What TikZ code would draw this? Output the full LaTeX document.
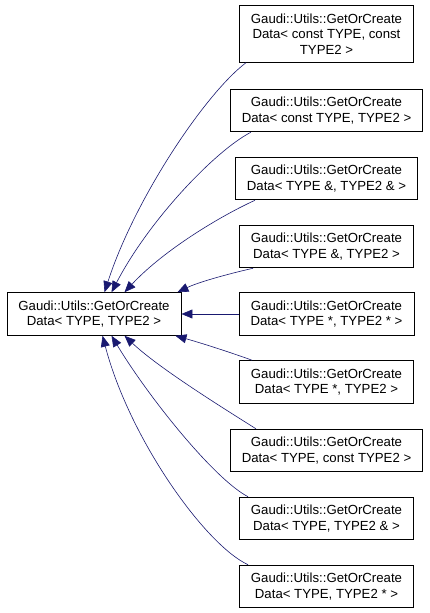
\documentclass[tikz,border=0pt]{standalone}
\usepackage{fontspec}
\setmainfont{Liberation Sans}
\usetikzlibrary{arrows.meta}
\definecolor{edgeblue}{RGB}{25,25,112}

\begin{document}
\begin{tikzpicture}[x=1pt,y=-1pt,
    cls/.style={draw=black,line width=0.8pt,fill=white,align=center,
      inner xsep=11.5pt,inner ysep=8pt,font=\fontsize{13.2}{15.5}\selectfont},
    inh/.style={edgeblue,line width=0.6pt,-{Triangle[length=11pt,width=9pt]}}]
    \useasboundingbox (0,0) rectangle (429,613);

    % base class
    \node[cls] (base) at (94,314) {Gaudi::Utils::GetOrCreate\\Data< TYPE, TYPE2 >};

    % specialisations
    \node[cls] (cc) at (326.5,34)  {Gaudi::Utils::GetOrCreate\\Data< const TYPE, const\\TYPE2 >};
    \node[cls] (ct) at (326.5,110.5) {Gaudi::Utils::GetOrCreate\\Data< const TYPE, TYPE2 >};
    \node[cls] (rr) at (326.5,178.5) {Gaudi::Utils::GetOrCreate\\Data< TYPE \&, TYPE2 \& >};
    \node[cls] (rt) at (326.5,246.5) {Gaudi::Utils::GetOrCreate\\Data< TYPE \&, TYPE2 >};
    \node[cls] (pp) at (326.5,314) {Gaudi::Utils::GetOrCreate\\Data< TYPE *, TYPE2 * >};
    \node[cls] (pt) at (326.5,382) {Gaudi::Utils::GetOrCreate\\Data< TYPE *, TYPE2 >};
    \node[cls] (tc) at (326.5,450.5) {Gaudi::Utils::GetOrCreate\\Data< TYPE, const TYPE2 >};
    \node[cls] (tr) at (326.5,518.5) {Gaudi::Utils::GetOrCreate\\Data< TYPE, TYPE2 \& >};
    \node[cls] (tp) at (326.5,586.5) {Gaudi::Utils::GetOrCreate\\Data< TYPE, TYPE2 * >};

    % inheritance edges
    \draw[inh] ([xshift=7pt]cc.south west) .. controls +(-41,31) and +(30,-93) .. ([xshift=98pt]base.north west);
    \draw[inh] ([xshift=21pt]ct.south west) .. controls +(-35,18) and +(38,-73) .. ([xshift=105pt]base.north west);
    \draw[inh] ([xshift=20pt]rr.south west) .. controls +(-33,15) and +(40,-43) .. ([xshift=118pt]base.north west);
    \draw[inh] ([xshift=14pt]rt.south west) .. controls +(-18,4) and +(23,-11) .. ([xshift=-4pt]base.north east);
    \draw[inh] (pp.west) -- (base.east);
    \draw[inh] ([xshift=13pt]pt.north west) .. controls +(-22,-8) and +(25,7) .. ([xshift=-6pt]base.south east);
    \draw[inh] ([xshift=26pt]tc.north west) .. controls +(-30,-19) and +(35,33) .. ([xshift=118pt]base.south west);
    \draw[inh] ([xshift=9pt]tr.north west) .. controls +(-33,-17) and +(38,63) .. ([xshift=105pt]base.south west);
    \draw[inh] ([xshift=9pt]tp.north west) .. controls +(-43,-20) and +(27,103) .. ([xshift=96pt]base.south west);
\end{tikzpicture}
\end{document}
